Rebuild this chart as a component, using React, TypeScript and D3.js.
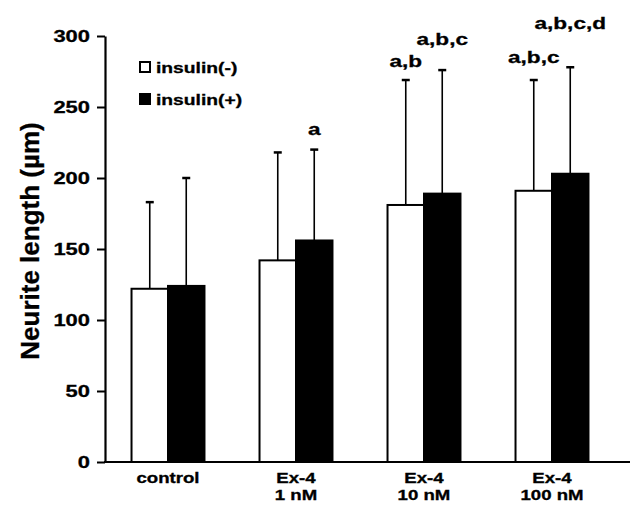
import React, { useRef, useEffect } from 'react';
import * as d3 from 'd3';

// values
const categories = [['control'], ['Ex-4', '1 nM'], ['Ex-4', '10 nM'], ['Ex-4', '100 nM']];
const seriesNames = ['insulin(-)', 'insulin(+)'];
const insulinMinus = [122, 142, 181, 191];
const insulinPlus = [124, 156, 189, 203];
const sdMinus = [61, 76, 88, 78];
const sdPlus = [76, 64, 87, 75];
const signifMinus = ['', '', 'a,b', 'a,b,c'];
const signifPlus = ['', 'a', 'a,b,c', 'a,b,c,d'];
const signifLevelMinus = [0, 0, 278, 281];
const signifLevelPlus = [0, 230, 294, 305];
const yTicks = [0, 50, 100, 150, 200, 250, 300];

const FONT = '"Liberation Sans", Arial, sans-serif';
const WIDE = 1.33; // the original lettering is wider than Arial

const App = () => {
  const svgRef = useRef(null);

  useEffect(() => {
    const width = 630;
    const height = 513;
    const svg = d3.select(svgRef.current);
    svg.selectAll('*').remove();
    svg.attr('width', width).attr('height', height);

    const y = d3.scaleLinear().domain([0, 300]).range([462, 36]);
    const x = d3.scaleBand()
      .domain(categories.map((d, i) => i))
      .range([104, 616])
      .paddingInner(0.43)
      .paddingOuter(0.215);
    const xSub = d3.scaleBand().domain([0, 1]).range([0, x.bandwidth()]);

    const boldText = sel => sel
      .style('font-family', FONT)
      .style('font-weight', 'bold')
      .attr('fill', '#000')
      .attr('stroke', '#000')
      .attr('stroke-width', 0.3);

    // y axis
    const yAxis = d3.axisLeft(y).tickValues(yTicks).tickSize(8).tickSizeOuter(0).tickPadding(7);
    const gy = svg.append('g').attr('transform', 'translate(105,0)').call(yAxis);
    gy.select('.domain').attr('stroke-width', 2.2);
    gy.selectAll('.tick line').attr('stroke-width', 2);
    gy.selectAll('.tick text')
      .attr('x', null)
      .attr('transform', `translate(-15,0) scale(${WIDE},1)`)
      .style('font-size', '16.5px')
      .call(boldText);

    // x axis line
    svg.append('line')
      .attr('x1', 104).attr('x2', 630)
      .attr('y1', y(0)).attr('y2', y(0))
      .attr('stroke', '#000').attr('stroke-width', 2.2);

    const series = [
      { vals: insulinMinus, sd: sdMinus, sig: signifMinus, lvl: signifLevelMinus, fill: '#fff' },
      { vals: insulinPlus, sd: sdPlus, sig: signifPlus, lvl: signifLevelPlus, fill: '#000' },
    ];

    series.forEach((s, si) => {
      const g = svg.append('g');
      const cx = i => x(i) + xSub(si) + xSub.bandwidth() / 2;

      // error bars (upper only)
      g.selectAll('.err')
        .data(s.vals)
        .join('line')
          .attr('x1', (d, i) => cx(i)).attr('x2', (d, i) => cx(i))
          .attr('y1', d => y(d)).attr('y2', (d, i) => y(d + s.sd[i]))
          .attr('stroke', '#000').attr('stroke-width', 1.6);
      g.selectAll('.cap')
        .data(s.vals)
        .join('line')
          .attr('x1', (d, i) => cx(i) - 4).attr('x2', (d, i) => cx(i) + 4)
          .attr('y1', (d, i) => y(d + s.sd[i])).attr('y2', (d, i) => y(d + s.sd[i]))
          .attr('stroke', '#000').attr('stroke-width', 2.5);

      g.selectAll('rect')
        .data(s.vals)
        .join('rect')
          .attr('x', (d, i) => x(i) + xSub(si))
          .attr('y', d => y(d))
          .attr('width', xSub.bandwidth())
          .attr('height', d => y(0) - y(d))
          .attr('fill', s.fill)
          .attr('stroke', '#000')
          .attr('stroke-width', 2);

      g.selectAll('.sig')
        .data(s.sig)
        .join('text')
          .attr('transform', (d, i) => `translate(${cx(i)},${y(s.lvl[i])}) scale(${WIDE},1)`)
          .attr('text-anchor', 'middle')
          .style('font-size', '17px')
          .call(boldText)
          .text(d => d);
    });

    // category labels
    categories.forEach((lines, i) => {
      lines.forEach((t, li) => {
        svg.append('text')
          .attr('transform', `translate(${x(i) + x.bandwidth() / 2},${483 + li * 17}) scale(${WIDE},1)`)
          .attr('text-anchor', 'middle')
          .style('font-size', '14px')
          .call(boldText)
          .text(t);
      });
    });

    // y title
    svg.append('text')
      .attr('transform', 'translate(39,241) rotate(-90)')
      .attr('text-anchor', 'middle')
      .style('font-size', '26px')
      .call(boldText)
      .text('Neurite length (\u00b5m)');

    // legend
    seriesNames.forEach((name, i) => {
      const ly = 62 + i * 32;
      svg.append('rect')
        .attr('x', 140).attr('y', ly)
        .attr('width', 10).attr('height', 10)
        .attr('fill', series[i].fill)
        .attr('stroke', '#000').attr('stroke-width', 2);
      svg.append('text')
        .attr('transform', `translate(156,${ly + 11}) scale(${WIDE},1)`)
        .style('font-size', '14.5px')
        .call(boldText)
        .text(name);
    });
  }, []);

  return (
    <svg ref={svgRef} style={{ position: 'absolute', left: 0, top: 0, background: '#fff' }}></svg>
  );
};

export default App;
